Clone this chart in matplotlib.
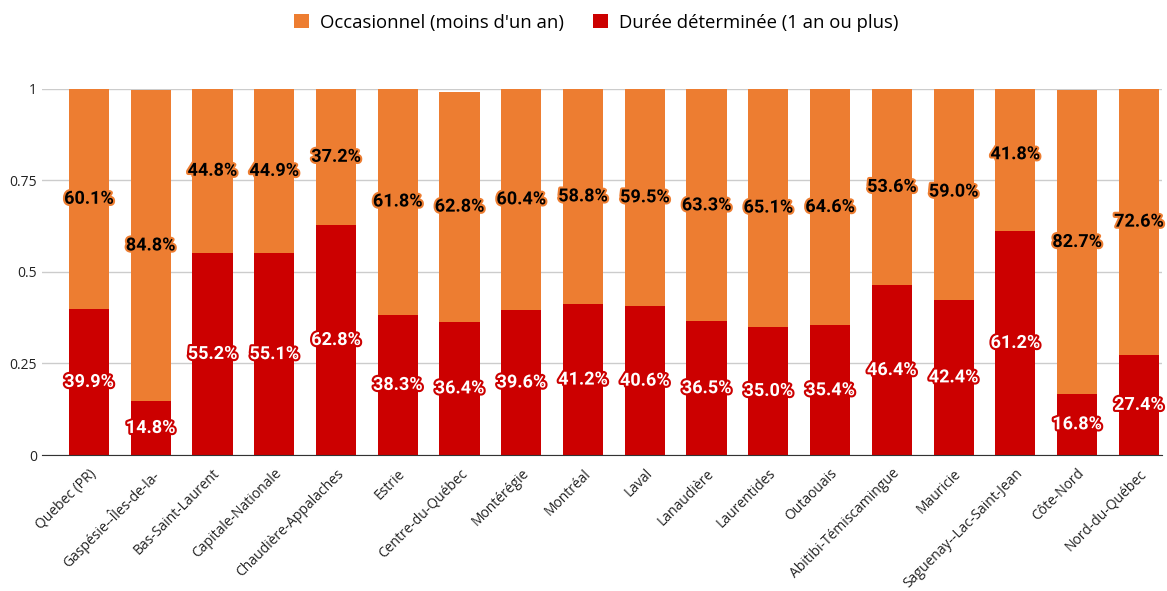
import matplotlib.pyplot as plt
import matplotlib.patheffects as pe
import numpy as np

regions = [
    "Quebec (PR)", "Gaspésie--Îles-de-la-", "Bas-Saint-Laurent", "Capitale-Nationale",
    "Chaudière-Appalaches", "Estrie", "Centre-du-Québec", "Montérégie", "Montréal",
    "Laval", "Lanaudière", "Laurentides", "Outaouais", "Abitibi-Témiscamingue",
    "Mauricie", "Saguenay--Lac-Saint-Jean", "Côte-Nord", "Nord-du-Québec",
]
duree_determinee = [39.9, 14.8, 55.2, 55.1, 62.8, 38.3, 36.4, 39.6, 41.2,
                    40.6, 36.5, 35.0, 35.4, 46.4, 42.4, 61.2, 16.8, 27.4]
occasionnel = [60.1, 84.8, 44.8, 44.9, 37.2, 61.8, 62.8, 60.4, 58.8,
               59.5, 63.3, 65.1, 64.6, 53.6, 59.0, 41.8, 82.7, 72.6]

ORANGE = "#ED7D31"
RED = "#CC0000"

plt.rcParams["font.family"] = ["Open Sans", "DejaVu Sans"]

fig = plt.figure(figsize=(11.67, 5.91), dpi=100)
ax = fig.add_axes([0.036, 0.23, 0.96, 0.62])

x = np.arange(len(regions))
red = np.array(duree_determinee) / 100
orange = np.array(occasionnel) / 100

b1 = ax.bar(x, red, width=0.65, color=RED, zorder=2, label="Durée déterminée (1 an ou plus)")
b2 = ax.bar(x, orange, width=0.65, bottom=red, color=ORANGE, zorder=2,
            label="Occasionnel (moins d'un an)")

lab_font = dict(fontsize=13, fontweight="bold", family=["Roboto", "DejaVu Sans"],
                ha="center", va="center", zorder=3)
for i in range(len(x)):
    ax.text(x[i], red[i] / 2, f"{duree_determinee[i]:.1f}%", color="white",
            path_effects=[pe.withStroke(linewidth=3, foreground=RED)], **lab_font)
    ax.text(x[i], red[i] + orange[i] / 2, f"{occasionnel[i]:.1f}%", color="black",
            path_effects=[pe.withStroke(linewidth=3, foreground=ORANGE)], **lab_font)

ax.set_ylim(0, 1)
ax.set_xlim(-0.76, 17.38)
ax.set_yticks([0, 0.25, 0.5, 0.75, 1])
ax.set_yticklabels(["0", "0.25", "0.5", "0.75", "1"])
ax.set_xticks(x)
ax.set_xticklabels(regions, rotation=45, ha="right", rotation_mode="anchor", fontsize=10,
                   color="#222222")
ax.tick_params(axis="both", length=0, labelsize=10, colors="#222222")
ax.tick_params(axis="x", pad=8)
ax.grid(axis="y", color="#cccccc", linewidth=1, zorder=0)
for s in ["top", "right", "left"]:
    ax.spines[s].set_visible(False)
ax.spines["bottom"].set_color("#333333")
ax.spines["bottom"].set_zorder(4)

handles = [b2, b1]
fig.legend(handles, [h.get_label() for h in handles], loc="upper center",
           bbox_to_anchor=(0.511, 1.005), ncol=2, frameon=False, fontsize=13.3,
           handlelength=0.8, handleheight=0.8, columnspacing=1.6, handletextpad=0.6)

fig.savefig("out.png", dpi=100)
